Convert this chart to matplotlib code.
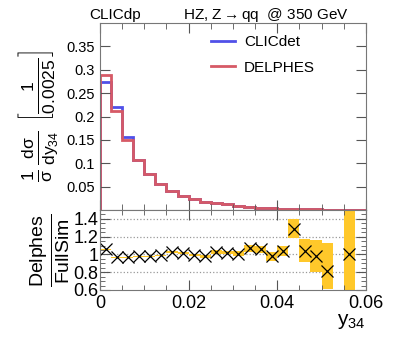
import matplotlib.pyplot as plt
import numpy as np
from matplotlib.ticker import MultipleLocator

plt.rcParams['font.family'] = ['Liberation Sans', 'DejaVu Sans']
plt.rcParams['mathtext.fontset'] = 'custom'
plt.rcParams['mathtext.rm'] = 'Liberation Sans'
plt.rcParams['mathtext.it'] = 'Liberation Sans'

# bin edges of y34 (width 0.0025)
edges = np.arange(0, 0.0601, 0.0025)

# normalised distributions
clicdet = [0.274, 0.220, 0.156, 0.108, 0.077, 0.056, 0.041, 0.031, 0.024, 0.018,
           0.0145, 0.012, 0.009, 0.007, 0.005, 0.004, 0.003, 0.0025, 0.002, 0.0015,
           0.001, 0.0008, 0.0005, 0.0004]
delphes = [0.288, 0.211, 0.149, 0.106, 0.076, 0.055, 0.041, 0.031, 0.024, 0.018,
           0.0145, 0.012, 0.009, 0.007, 0.005, 0.004, 0.003, 0.0025, 0.002, 0.0015,
           0.001, 0.0008, 0.0005, 0.0004]

# ratio Delphes / FullSim (bins with entries) and error band
ratio_bins = [0, 1, 2, 3, 4, 5, 6, 7, 8, 9, 10, 11, 12, 13, 14, 15, 16, 17, 18, 19, 20, 22]
ratio = [1.06, 0.97, 0.97, 0.98, 0.98, 0.99, 1.03, 1.02, 0.99, 0.98, 1.03, 1.02,
         1.01, 1.07, 1.06, 0.98, 1.04, 1.29, 1.04, 0.98, 0.81, 1.01]
err_lo = [0.005, 0.005, 0.005, 0.005, 0.006, 0.008, 0.01, 0.01, 0.012, 0.015, 0.02, 0.02,
          0.025, 0.04, 0.04, 0.05, 0.06, 0.11, 0.13, 0.18, 0.20, 0.45]
err_hi = [0.005, 0.005, 0.005, 0.005, 0.006, 0.008, 0.01, 0.01, 0.012, 0.015, 0.02, 0.02,
          0.025, 0.04, 0.04, 0.05, 0.06, 0.11, 0.13, 0.18, 0.32, 0.5]

blue = '#5050e8'
red = '#d65a66'
yellow = '#ffc82a'

fig = plt.figure(figsize=(4.07, 3.48), dpi=100)
ax1 = fig.add_axes([0.2457, 0.3966, 0.6533, 0.537])
ax2 = fig.add_axes([0.2457, 0.1667, 0.6533, 0.23])

# top panel
ax1.stairs(clicdet, edges, color=blue, lw=2.0, label='CLICdet')
ax1.stairs(delphes, edges, color=red, lw=2.0, label='DELPHES')
ax1.set_xlim(0, 0.06)
ax1.set_ylim(0, 0.4)
ax1.set_yticks([0.05, 0.1, 0.15, 0.2, 0.25, 0.3, 0.35])
ax1.set_yticklabels(['0.05', '0.1', '0.15', '0.2', '0.25', '0.3', '0.35'])
ax1.xaxis.set_major_locator(MultipleLocator(0.02))
ax1.xaxis.set_minor_locator(MultipleLocator(0.005))
ax1.tick_params(axis='both', which='both', direction='in', top=True, right=True,
                labelsize=10.5, color='#555555')
ax1.tick_params(axis='x', labelbottom=False)
ax1.tick_params(which='major', length=7)
ax1.tick_params(which='minor', length=4)
ax1.legend(loc='upper left', bbox_to_anchor=(0.37, 1.0), frameon=False, fontsize=11,
           handlelength=1.6, handletextpad=0.6, borderaxespad=0.4, labelspacing=0.75)
ax1.set_ylabel(r'$\frac{1}{\sigma}\,\frac{d\sigma}{dy_{34}}\ \left[\frac{1}{0.0025}\right]$',
               fontsize=18, labelpad=4)
for s in ax1.spines.values():
    s.set_color('#777777')

fig.text(0.22, 0.945, 'CLICdp', fontsize=11)
fig.text(0.45, 0.945, r'HZ, Z$\rightarrow$qq  @ 350 GeV', fontsize=11)

# bottom panel
centers = [(edges[i] + edges[i + 1]) / 2 for i in ratio_bins]
for i, c, r, lo, hi in zip(ratio_bins, centers, ratio, err_lo, err_hi):
    ax2.fill_between([edges[i], edges[i + 1]], r - lo, r + hi, color=yellow, lw=0)
ax2.plot(centers, ratio, ls='none', marker='x', ms=8.5, mew=0.9, color='black')
for yv in [0.8, 1.0, 1.2, 1.4]:
    ax2.axhline(yv, color='#999999', ls=':', lw=0.9, zorder=0)
ax2.set_xlim(0, 0.06)
ax2.set_ylim(0.6, 1.5)
ax2.set_xticks([0, 0.02, 0.04, 0.06])
ax2.set_xticklabels(['0', '0.02', '0.04', '0.06'])
ax2.xaxis.set_minor_locator(MultipleLocator(0.005))
ax2.set_yticks([0.6, 0.8, 1.0, 1.2, 1.4])
ax2.set_yticklabels(['0.6', '0.8', '1', '1.2', '1.4'])
ax2.yaxis.set_minor_locator(MultipleLocator(0.05))
ax2.tick_params(axis='both', which='both', direction='in', top=True, right=True,
                labelsize=13, color='#555555')
ax2.tick_params(which='major', length=7)
ax2.tick_params(which='minor', length=3.5)
ax2.tick_params(axis='y', pad=1)
ax2.set_ylabel(r'$\frac{\mathrm{Delphes}}{\mathrm{FullSim}}$', fontsize=20, labelpad=1)
ax2.set_xlabel(r'y$_{34}$', fontsize=15, loc='right', labelpad=0)
for s in ax2.spines.values():
    s.set_color('#777777')

fig.savefig('out.png', dpi=100)
